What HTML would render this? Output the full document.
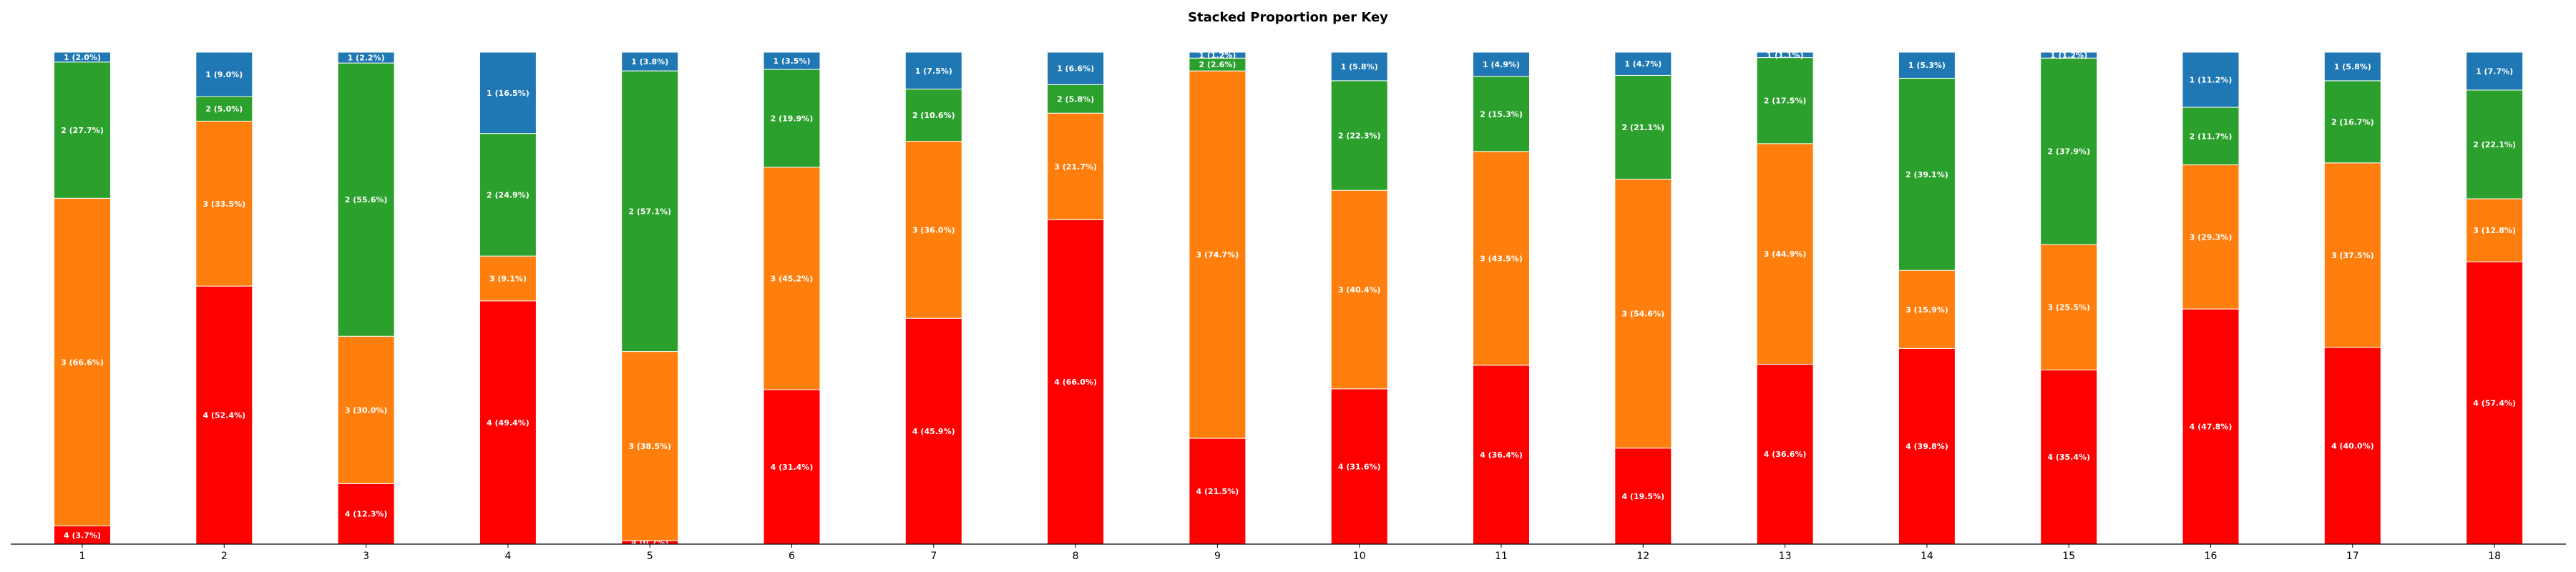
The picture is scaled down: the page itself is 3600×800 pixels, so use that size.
<!DOCTYPE html>
<html><head><meta charset="utf-8"><style>
html,body{margin:0;padding:0;background:#fff;}
svg{display:block;font-family:"DejaVu Sans","Liberation Sans",sans-serif;}
</style></head><body>
<svg id="chart" width="3600" height="800" viewBox="0 0 3600 800" xmlns="http://www.w3.org/2000/svg">
<text x="1800" y="30" text-anchor="middle" font-size="18" font-weight="bold" fill="#000">Stacked Proportion per Key</text>
<g id="bars"></g>
<line x1="15" y1="761" x2="3586" y2="761" stroke="#000" stroke-width="1.3"/>
<g id="ticks"></g>
</svg>
<script>
const categories = ["1","2","3","4","5","6","7","8","9","10","11","12","13","14","15","16","17","18"];
const seriesNames = ["4","3","2","1"];
const s4 = [3.7,52.4,12.3,49.4,0.7,31.4,45.9,66.0,21.5,31.6,36.4,19.5,36.6,39.8,35.4,47.8,40.0,57.4];
const s3 = [66.6,33.5,30.0,9.1,38.5,45.2,36.0,21.7,74.7,40.4,43.5,54.6,44.9,15.9,25.5,29.3,37.5,12.8];
const s2 = [27.7,5.0,55.6,24.9,57.1,19.9,10.6,5.8,2.6,22.3,15.3,21.1,17.5,39.1,37.9,11.7,16.7,22.1];
const s1 = [2.0,9.0,2.2,16.5,3.8,3.5,7.5,6.6,1.2,5.8,4.9,4.7,1.1,5.3,1.2,11.2,5.8,7.7];
const colors = ["#ff0000","#ff7f0e","#2ca02c","#1f77b4"];
const series = [s4,s3,s2,s1];
const NS = "http://www.w3.org/2000/svg";
const x0 = 115, step = 198.3, barW = 79;
const yBase = 761, yTop = 73;
function xPos(i){ return x0 + i*step; }
function yPos(v){ return yBase - (yBase - yTop) * v / 100; }
const gBars = document.getElementById('bars');
const gTicks = document.getElementById('ticks');
categories.forEach((c,i)=>{
  const tot = series.reduce((a,s)=>a+s[i],0);
  let cum = 0;
  series.forEach((s,k)=>{
    const v = s[i]/tot*100;
    const y1 = yPos(cum+v), y0 = yPos(cum);
    const r = document.createElementNS(NS,'rect');
    r.setAttribute('x', xPos(i)-barW/2);
    r.setAttribute('y', y1);
    r.setAttribute('width', barW);
    r.setAttribute('height', y0-y1);
    r.setAttribute('fill', colors[k]);
    r.setAttribute('stroke', '#fff');
    r.setAttribute('stroke-width', '1');
    
    
    gBars.appendChild(r);
    const t = document.createElementNS(NS,'text');
    t.setAttribute('x', xPos(i));
    t.setAttribute('y', (y0+y1)/2 + 4);
    t.setAttribute('text-anchor','middle');
    t.setAttribute('font-size','11');
    t.setAttribute('font-weight','bold');
    t.setAttribute('fill','#fff');
    t.textContent = seriesNames[k] + ' (' + s[i].toFixed(1) + '%)';
    
    
    gBars.appendChild(t);
    cum += v;
  });
  const tk = document.createElementNS(NS,'line');
  tk.setAttribute('x1', xPos(i)); tk.setAttribute('x2', xPos(i));
  tk.setAttribute('y1', yBase); tk.setAttribute('y2', yBase+5);
  tk.setAttribute('stroke','#000');
  
  
  gTicks.appendChild(tk);
  const tl = document.createElementNS(NS,'text');
  tl.setAttribute('x', xPos(i));
  tl.setAttribute('y', 782);
  tl.setAttribute('text-anchor','middle');
  tl.setAttribute('font-size','14');
  tl.setAttribute('fill','#000');
  tl.textContent = c;
  
  
  gTicks.appendChild(tl);
});
</script>
</body></html>
